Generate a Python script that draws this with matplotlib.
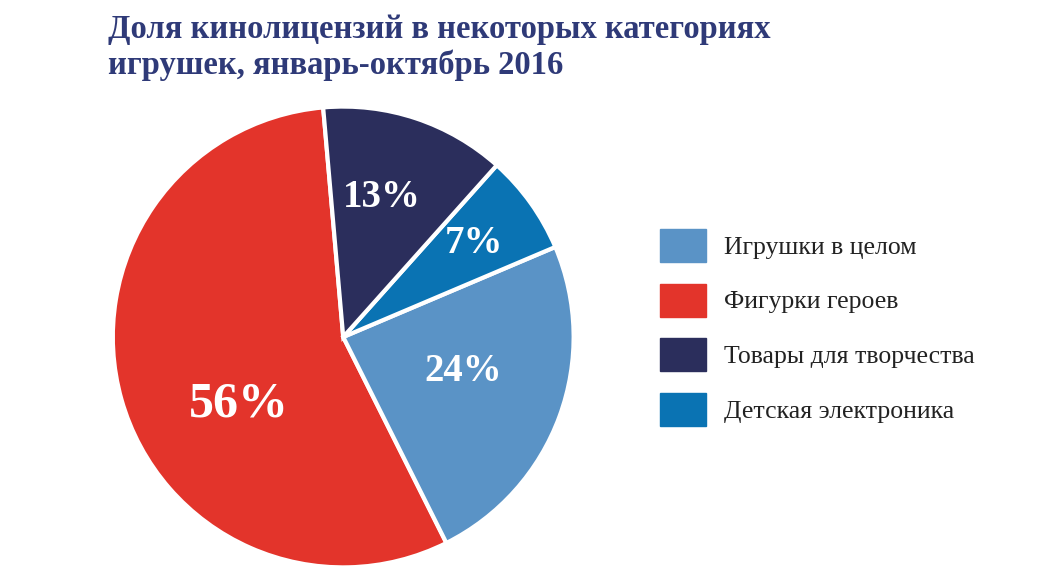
import matplotlib.pyplot as plt
import matplotlib.patches as mpatches
import numpy as np

categories = ['Игрушки в целом', 'Фигурки героев', 'Товары для творчества', 'Детская электроника']
colors = ['#5a93c6', '#e3342b', '#2b2e5c', '#0a73b3']
# pie order (counterclockwise from top): red, light blue, cyan, navy
pie_values = [56, 24, 7, 13]
pie_colors = ['#e3342b', '#5a93c6', '#0a73b3', '#2b2e5c']
pie_labels = ['56%', '24%', '7%', '13%']
label_r = [0.54, 0.54, 0.70, 0.63]
label_shift = [17, 4, 0, 3]   # degrees, nudges label off the wedge's mid angle
label_size = [36, 28, 28, 28]

fig = plt.figure(figsize=(10.61, 5.79), dpi=100)
fig.text(0.102, 0.975, 'Доля кинолицензий в некоторых категориях\nигрушек, январь-октябрь 2016',
         fontsize=23.5, fontweight='bold', color='#2f3a78', family='Liberation Serif',
         va='top', ha='left', linespacing=1.15)

ax = fig.add_axes([0.102, 0.012, 0.443, 0.812])
wedges, _ = ax.pie(pie_values, colors=pie_colors, startangle=95, counterclock=True,
                   wedgeprops=dict(edgecolor='white', linewidth=3))
for w, lab, r, sh, fs in zip(wedges, pie_labels, label_r, label_shift, label_size):
    ang = np.deg2rad((w.theta1 + w.theta2) / 2 + sh)
    ax.text(r * np.cos(ang), r * np.sin(ang), lab, color='white', fontsize=fs,
            fontweight='bold', family='Liberation Serif', ha='center', va='center')
ax.set_xlim(-1.02, 1.02)
ax.set_ylim(-1.02, 1.02)
ax.set_aspect('equal')

handles = [mpatches.Patch(color=c) for c in colors]
fig.legend(handles, categories, loc='upper left', bbox_to_anchor=(0.6, 0.645),
           frameon=False, prop={'family': 'Liberation Serif', 'size': 18.5},
           handlelength=1.8, handleheight=1.6, labelspacing=0.85, handletextpad=0.7,
           labelcolor='#222222')

plt.savefig('out.png', dpi=100)
